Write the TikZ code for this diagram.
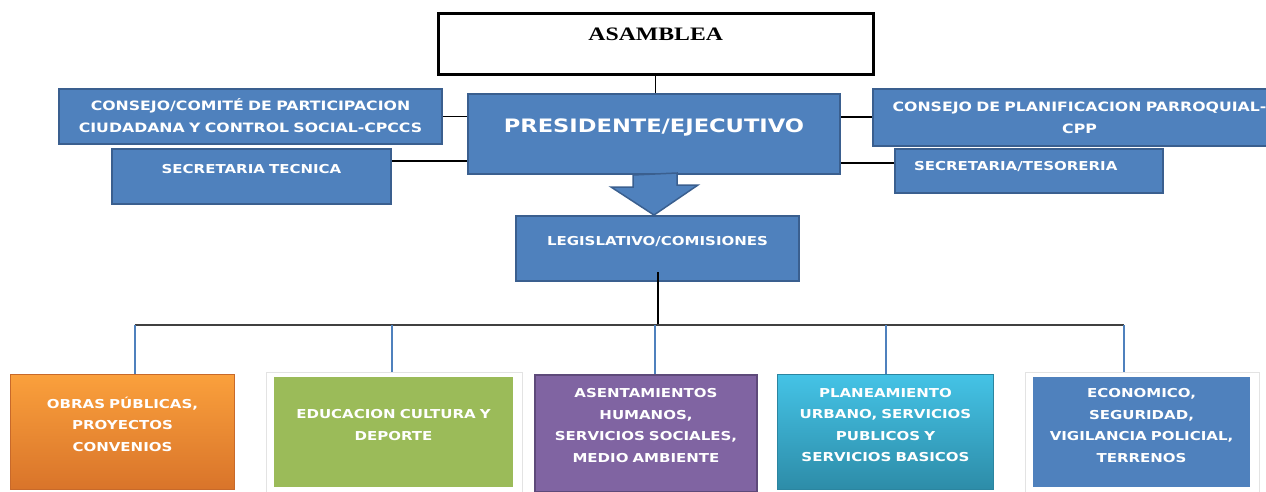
\documentclass[tikz,border=0pt]{standalone}
\usepackage{fontspec}
\newfontfamily\orgfont{DejaVu Sans}[FakeStretch=1.22]
\newfontfamily\titlefont{Liberation Serif}[FakeStretch=1.25]
\usetikzlibrary{calc, backgrounds}

\definecolor{unitblue}{HTML}{4F81BD}
\definecolor{unitedge}{HTML}{3A5F8F}
\definecolor{obrastop}{HTML}{FAA03C}
\definecolor{obrasbot}{HTML}{D9742A}
\definecolor{obrasedge}{HTML}{C8692A}
\definecolor{educgreen}{HTML}{9BBB59}
\definecolor{asentpurple}{HTML}{8064A2}
\definecolor{asentedge}{HTML}{5E4A7A}
\definecolor{plantop}{HTML}{44C3E6}
\definecolor{planbot}{HTML}{2D8CA8}
\definecolor{planedge}{HTML}{2B85A0}
\definecolor{buscol}{HTML}{404040}
\definecolor{dropcol}{HTML}{4F81BD}
\definecolor{framegray}{HTML}{E3E3E3}

\begin{document}
\begin{tikzpicture}[x=1pt, y=-1pt,
    unit/.style={draw=unitedge, fill=unitblue, line width=2pt, text=white,
      align=center, inner sep=0pt, anchor=north west,
      font=\orgfont\bfseries\fontsize{12.3}{22}\selectfont},
    wideunit/.style={unit, font=\orgfont\bfseries\fontsize{12.9}{22}\selectfont},
    area/.style={unit, font=\orgfont\bfseries\fontsize{12.3}{21.5}\selectfont},
    link/.style={black, line width=1.3pt},
    trunk/.style={black, line width=2pt},
    buslink/.style={buscol, line width=2pt},
    drop/.style={dropcol, line width=2pt},
    blockarrow/.style={fill=unitblue, draw=unitedge, line width=1.5pt, line join=miter}]

    \useasboundingbox (0,0) rectangle (1266,491);

    % Top level
    \node[unit, fill=white, draw=black, line width=2.5pt, text=black,
      font=\titlefont\bfseries\fontsize{19}{22}\selectfont,
      text width=435pt, text height=27pt, text depth=34pt] (asam) at (437,12) {ASAMBLEA};
    \node[unit, font=\orgfont\bfseries\fontsize{18.5}{22}\selectfont,
      text width=372pt, text height=38.75pt, text depth=41.25pt] (pres) at (467,93) {PRESIDENTE/EJECUTIVO};

    % Side units
    \node[wideunit, text width=383pt, text height=21.5pt, text depth=33.5pt] (cpccs) at (58,88)
      {CONSEJO/COMITÉ DE PARTICIPACION\\CIUDADANA Y CONTROL SOCIAL-CPCCS};
    \node[unit, text width=279pt, text height=24.5pt, text depth=30.5pt] (sectec) at (111,148)
      {SECRETARIA TECNICA};
    \node[wideunit, text width=413pt, text height=22.5pt, text depth=34.5pt] (cpp) at (872,88)
      {CONSEJO DE PLANIFICACION PARROQUIAL-\\CPP};
    \node[unit, align=left, inner xsep=19pt, text width=230pt, text height=21.5pt, text depth=22.5pt] (sectes) at (894,148)
      {SECRETARIA/TESORERIA};

    % Legislative
    \node[unit, text width=283pt, text height=29.5pt, text depth=35.5pt] (leg) at (515,215)
      {LEGISLATIVO/COMISIONES};

    % Commissions
    \node[area, draw=obrasedge, line width=1pt, top color=obrastop, bottom color=obrasbot,
      text width=224pt, text height=33.5pt, text depth=81.5pt] (obras) at (10,374)
      {OBRAS PÚBLICAS,\\PROYECTOS\\CONVENIOS};
    \node[area, draw=none, fill=educgreen,
      text width=239pt, text height=41.5pt, text depth=68.5pt] (educ) at (273,376)
      {EDUCACION CULTURA Y\\DEPORTE};
    \node[area, draw=asentedge, fill=asentpurple,
      text width=222pt, text height=22.5pt, text depth=94.5pt] (asent) at (534,374)
      {ASENTAMIENTOS\\HUMANOS,\\SERVICIOS SOCIALES,\\MEDIO AMBIENTE};
    \node[area, draw=planedge, line width=1pt, top color=plantop, bottom color=planbot,
      text width=216pt, text height=22.5pt, text depth=92.5pt] (plan) at (777,374)
      {PLANEAMIENTO\\URBANO, SERVICIOS\\PUBLICOS Y\\SERVICIOS BASICOS};
    \node[area, draw=none, fill=unitblue,
      text width=217pt, text height=20.5pt, text depth=89.5pt] (econ) at (1032,376)
      {ECONOMICO,\\SEGURIDAD,\\VIGILANCIA POLICIAL,\\TERRENOS};

    % Light frames
    \begin{scope}[on background layer]
      \foreach \u in {educ, econ}
        \draw[framegray, fill=white, line width=0.8pt]
          ($(\u.north west)+(-7,-4)$) rectangle ($(\u.south east)+(8,4)$);
    \end{scope}

    % Connectors
    \draw[link] (asam.south) -- (asam.south |- pres.north);
    \draw[link] (cpccs.east) -- (cpccs.east -| pres.west);
    \draw[link] ($(sectec.north east)+(0,13)$) coordinate (st) -- (st -| pres.west);
    \draw[link] ($(cpp.north west)+(0,29)$) coordinate (cp) -- (cp -| pres.east);
    \draw[link] ($(sectes.north west)+(0,15)$) coordinate (ts) -- (ts -| pres.east);

    % Block arrow
    \draw[blockarrow] ($(pres.south)+(-21,0)$) -- ++(0,12) -- ++(-22,0)
      -- (pres.south |- leg.north) -- ++(44,-30) -- ++(-21,0) -- ++(0,-12) -- cycle;

    % Bus
    \coordinate (bus) at ($(leg.south)+(0,43)$);
    \foreach \u/\dx/\dy in {obras/12/0, educ/-2/-4, asent/9/0, plan/0/0, econ/-18/-4}
      \coordinate (\u drop) at ($(\u.north)+(\dx,\dy)$);
    \draw[trunk] ($(leg.south)+(0,-10)$) -- (bus);
    \draw[buslink] (obrasdrop |- bus) -- (econdrop |- bus);
    \foreach \u in {obras, educ, asent, plan, econ}
      \draw[drop] (\u drop |- bus) -- (\u drop);

\end{tikzpicture}
\end{document}
